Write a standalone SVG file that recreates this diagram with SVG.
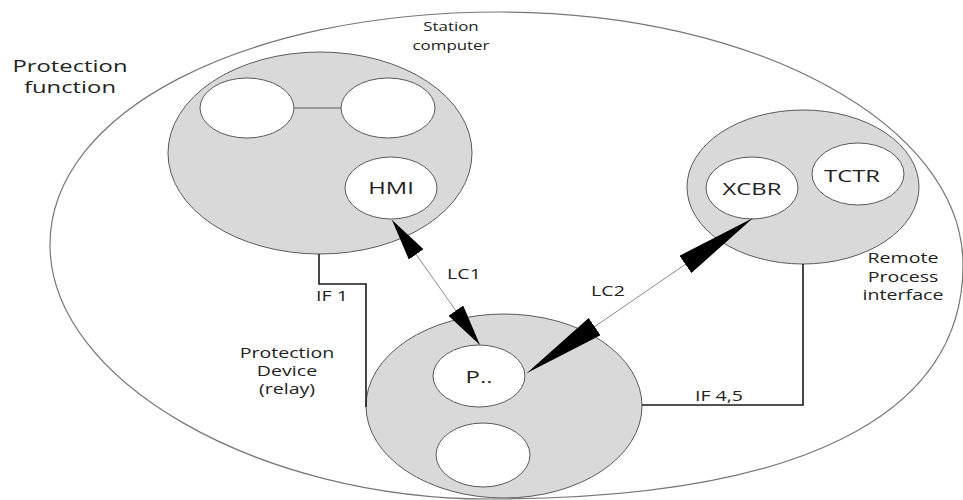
<svg xmlns="http://www.w3.org/2000/svg" width="963" height="500" viewBox="0 0 963 500">
<style>
.t{font-family:"Open Sans","Liberation Sans",sans-serif;fill:#222;text-anchor:middle}
.grey{fill:#d9d9d9;stroke:#5a5a5a;stroke-width:1}
.white{fill:#fff;stroke:#5a5a5a;stroke-width:1}
.lc{stroke:#8a8a8a;stroke-width:1;fill:none}
.ifl{stroke:#1a1a1a;stroke-width:1.6;fill:none}
</style>
<defs>
<marker id="wS" markerUnits="userSpaceOnUse" markerWidth="42" markerHeight="18" viewBox="0 0 42 18" refX="42" refY="9" orient="auto-start-reverse">
<path d="M0,0 L42,9 L0,18 Z" fill="#000"/>
</marker>
<marker id="wL" markerUnits="userSpaceOnUse" markerWidth="82" markerHeight="21" viewBox="0 0 82 21" refX="82" refY="10.5" orient="auto-start-reverse">
<path d="M0,0 L82,10.5 L0,21 Z" fill="#000"/>
</marker>
</defs>
<rect width="963" height="500" fill="#fff"/>
<g id="protection-function">
<path d="M500,12 C756,12 963,125 963,265 C963,417 797,499 490,499 C257,499 50,380 50,245 C50,112 243,12 500,12 Z" fill="none" stroke="#777" stroke-width="1.2"/>
<text class="t" font-size="17" transform="translate(70,72) scale(1.4,1)"><tspan x="0" y="0">Protection</tspan><tspan x="0" y="21">function</tspan></text>
</g>
<g id="station-computer">
<ellipse class="grey" cx="320" cy="153" rx="152" ry="101"/>
<ellipse class="white" cx="247" cy="108" rx="47" ry="30"/>
<ellipse class="white" cx="388" cy="108" rx="47" ry="30"/>
<line x1="294" y1="108" x2="341" y2="108" stroke="#5a5a5a" stroke-width="1.2"/>
<text class="t" font-size="13" transform="translate(451,31) scale(1.3,1)"><tspan x="0" y="0">Station</tspan><tspan x="0" y="19">computer</tspan></text>
</g>
<g id="hmi">
<ellipse class="white" cx="391" cy="188" rx="46" ry="31"/>
<text class="t" font-size="17" transform="translate(391,194) scale(1.4,1)">HMI</text>
</g>
<g id="remote-process-interface">
<ellipse class="grey" cx="803" cy="187" rx="116" ry="77"/>
<text class="t" font-size="14" transform="translate(903,263) scale(1.4,1)"><tspan x="0" y="0">Remote</tspan><tspan x="0" y="19">Process</tspan><tspan x="0" y="37">interface</tspan></text>
</g>
<g id="xcbr">
<ellipse class="white" cx="752" cy="188" rx="46" ry="31"/>
<text class="t" font-size="17" transform="translate(752,195) scale(1.4,1)">XCBR</text>
</g>
<g id="tctr">
<ellipse class="white" cx="858" cy="174" rx="46" ry="31"/>
<text class="t" font-size="17" transform="translate(852,182) scale(1.4,1)">TCTR</text>
</g>
<g id="protection-device">
<ellipse class="grey" cx="504" cy="406" rx="138" ry="92"/>
<ellipse class="white" cx="483" cy="455" rx="47" ry="32"/>
<text class="t" font-size="14" transform="translate(287,358) scale(1.4,1)"><tspan x="0" y="0">Protection</tspan><tspan x="0" y="18">Device</tspan><tspan x="0" y="36">(relay)</tspan></text>
</g>
<g id="p-node">
<ellipse class="white" cx="479" cy="376" rx="46" ry="31"/>
<text class="t" font-size="17" transform="translate(479,383) scale(1.4,1)">P..</text>
</g>
<g id="connectors">
<polyline class="ifl" points="319,254 319,284 366,284 366,407"/>
<polyline class="ifl" points="642,405 803,405 803,264"/>
<line class="lc" x1="392" y1="220" x2="480" y2="345" marker-start="url(#wS)" marker-end="url(#wS)"/>
<line class="lc" x1="527" y1="373" x2="753" y2="218" marker-start="url(#wL)" marker-end="url(#wL)"/>
<text class="t" font-size="14" transform="translate(332,301) scale(1.4,1)">IF 1</text>
<text class="t" font-size="14" transform="translate(719,401) scale(1.4,1)">IF 4,5</text>
<text class="t" font-size="14" transform="translate(464,279) scale(1.4,1)">LC1</text>
<text class="t" font-size="14" transform="translate(608,296) scale(1.4,1)">LC2</text>
</g>
</svg>
